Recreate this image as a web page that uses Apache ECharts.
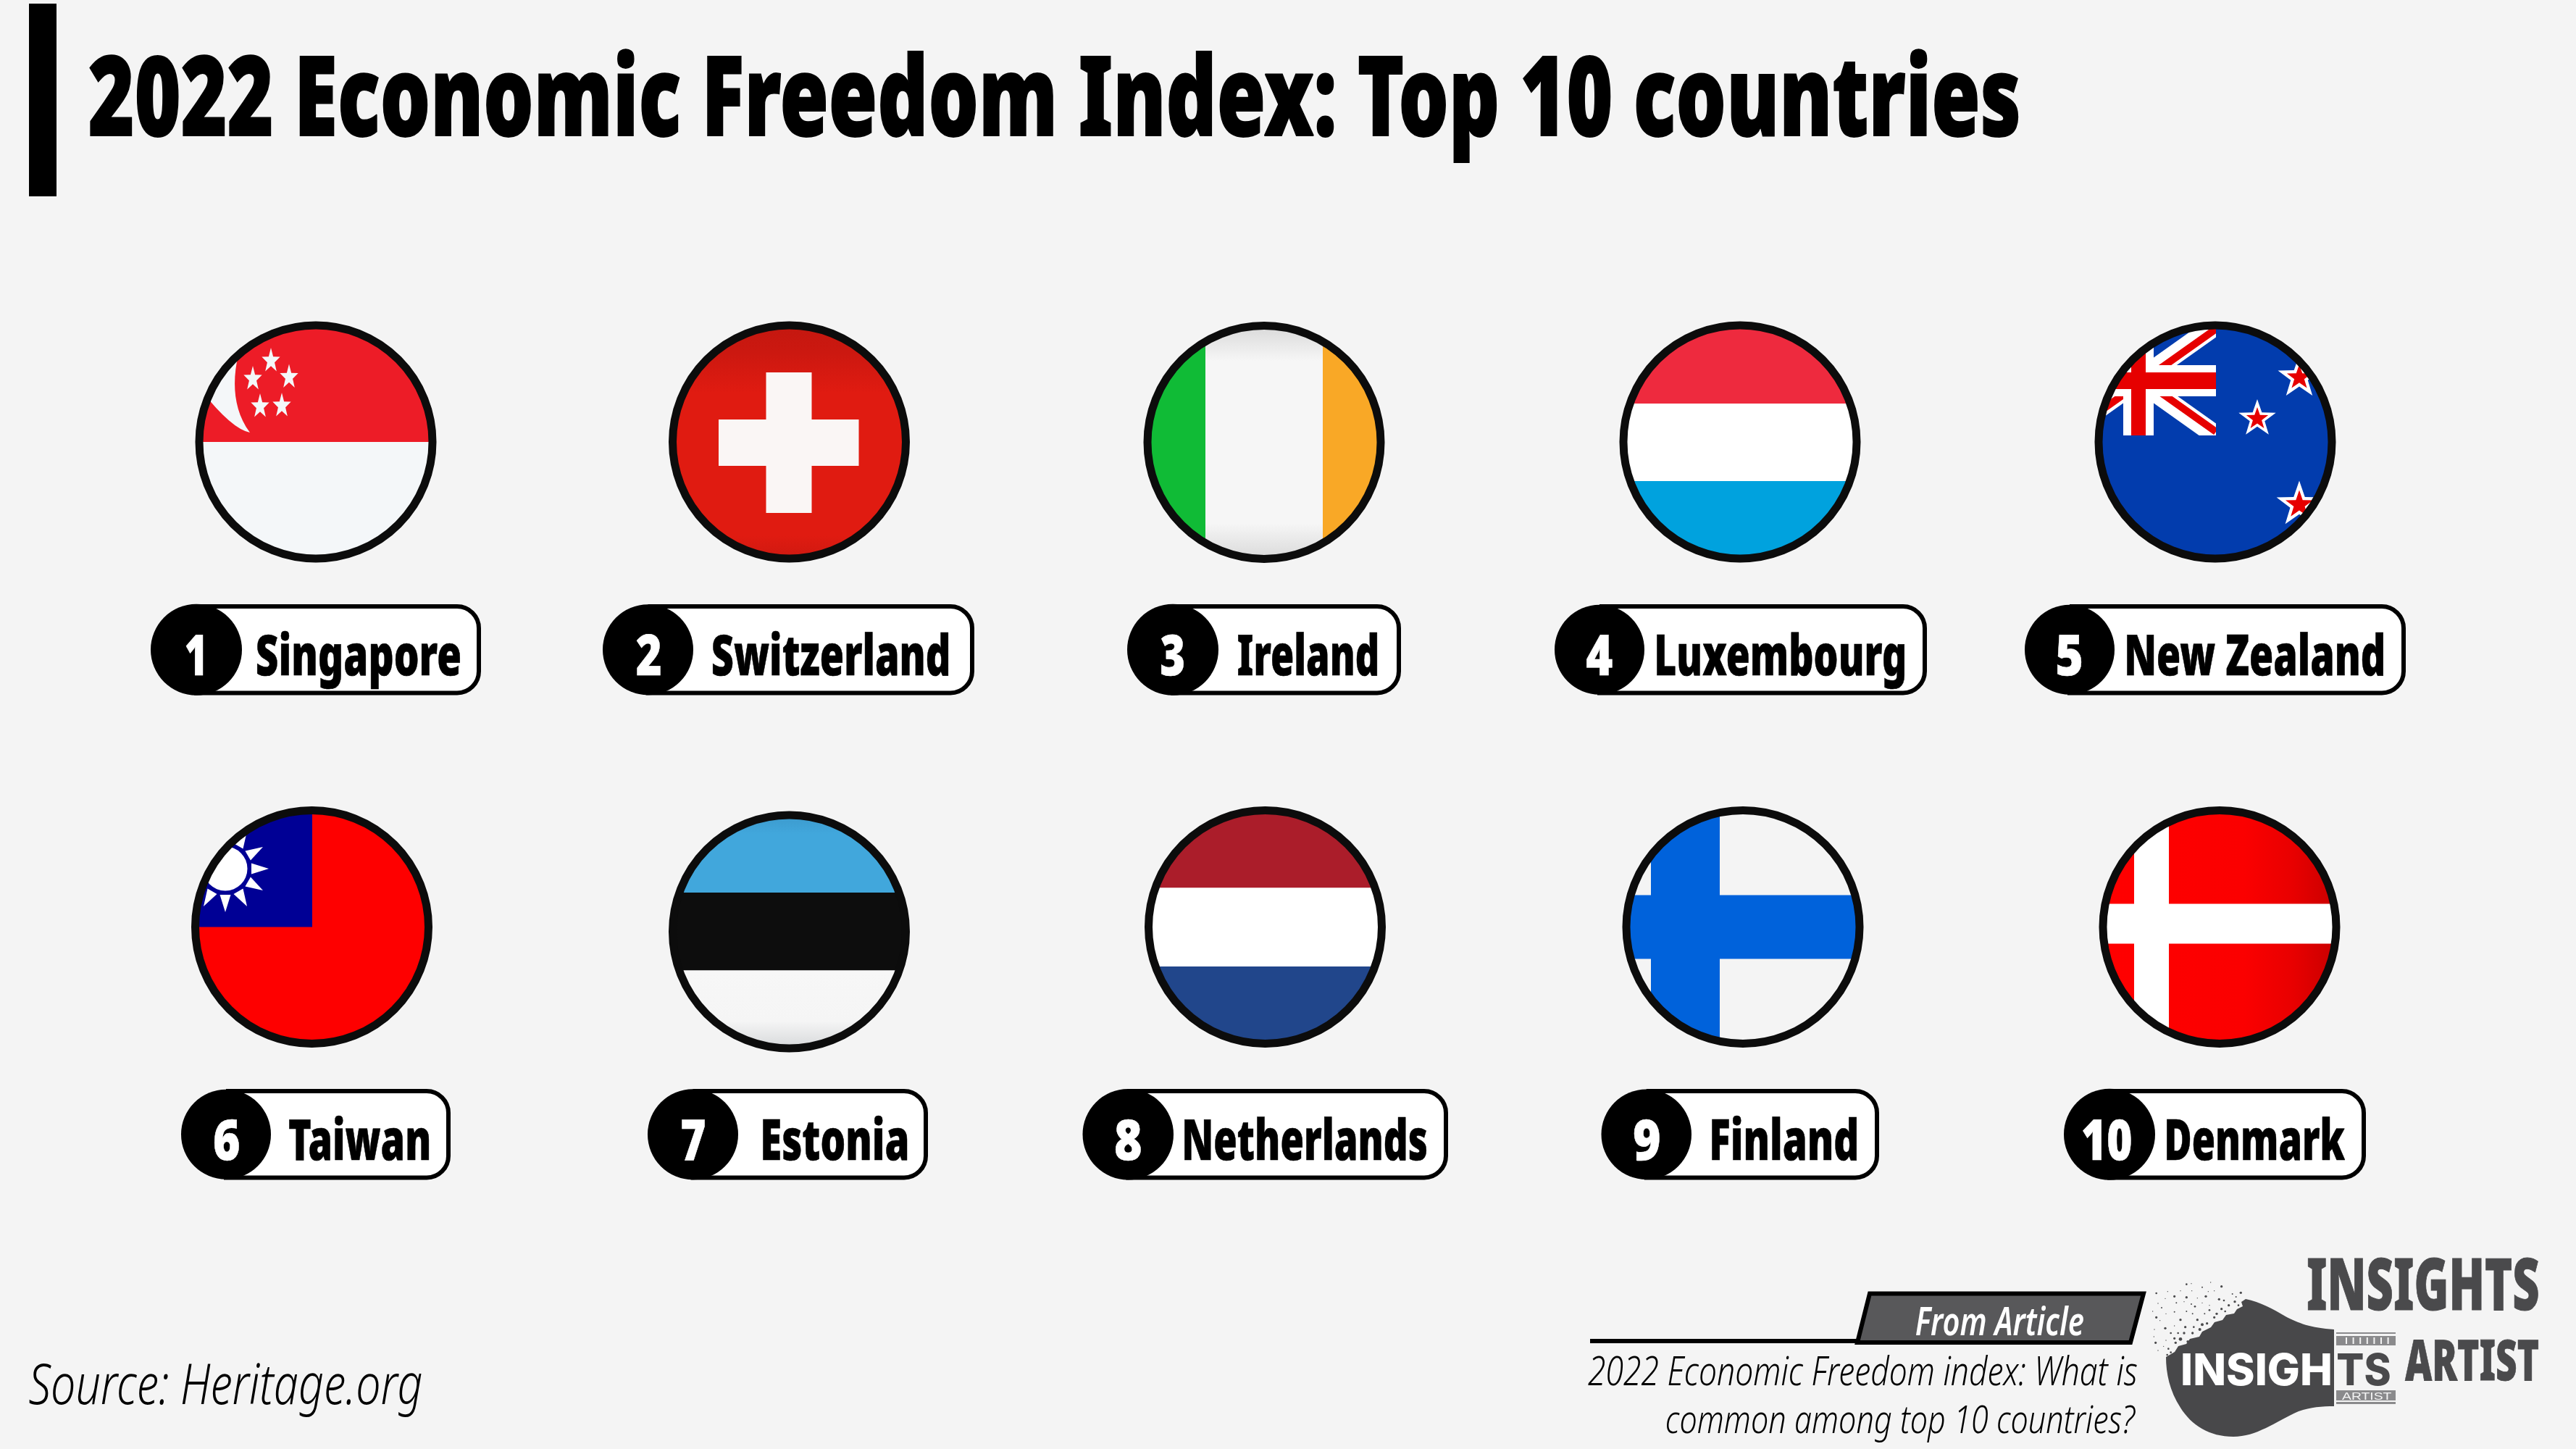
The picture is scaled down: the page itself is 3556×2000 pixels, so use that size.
<!DOCTYPE html>
<html>
<head>
<meta charset="utf-8">
<style>html,body{margin:0;padding:0;background:#f4f4f4}#c{width:3556px;height:2000px}</style>
<script src="https://cdn.jsdelivr.net/npm/echarts@6/dist/echarts.min.js"></script>
</head>
<body>
<div id="c"></div>
<script>
// ---------- content ----------
const titleText = '2022 Economic Freedom Index: Top 10 countries';
const countries = ['Singapore','Switzerland','Ireland','Luxembourg','New Zealand','Taiwan','Estonia','Netherlands','Finland','Denmark'];
const ranks = [1,2,3,4,5,6,7,8,9,10];
const sourceText = 'Source: Heritage.org';
const articleTag = 'From Article';
const articleLines = ['2022 Economic Freedom index: What is','common among top 10 countries?'];
const logoWords = ['INSIGHTS','ARTIST','INSIGH','TS'];

// ---------- layout (separate from the content above) ----------
const flagX = [436,1089.5,1745,2402,3058,430.5,1089.5,1746.5,2406,3064];
const flagY = [610,610,610.5,610,610,1279.5,1286,1279.5,1279.5,1279.5];
const pillLeft = [208,832,1556,2146,2795,250,894,1494.5,2210.5,2849];
const discRight = [334,957,1682,2270,2919,374,1019,1620,2335,2975];
const pillRight = [664,1345,1934,2660,3321,622,1281,1999,2594,3266];
const nameLeft = [355,984,1709,2287,2936,399,1053,1635,2363,2991];
const nameRight = [635,1309,1901,2629,3290,592,1252,1969,2563,3237];
const rankLeft = [257,879,1603,2190,2840,296,941,1540,2256,2875.5];
const rankRight = [280,911.5,1634,2226,2873,330,973,1575,2291,2942];
const pillTop = [834,834,834,834,834,1503,1503,1503,1503,1503];
const PILL_H = 125.5, CAP_OFFSET = 42.5, CAP_H = 55.5, FLAG_R = 157, RING_R = 161, RING_W = 11;

const HEAVY = {fontFamily:'"Noto Sans"', fontWeight:900, fontStyle:'normal'};
const ITALIC = {fontFamily:'"Noto Sans"', fontWeight:300, fontStyle:'italic'};
const ITALIC_B = {fontFamily:'"Noto Sans"', fontWeight:600, fontStyle:'italic'};
const LOGO_F = {fontFamily:'"Inter"', fontWeight:800, fontStyle:'normal'};
const LOGO_T = {fontFamily:'"Liberation Sans"', fontWeight:400, fontStyle:'normal'};

// ---------- helpers ----------
const mctx = document.createElement('canvas').getContext('2d');
function fitText(str, f, x0, x1, capTop, baseline, fill, lw) {
  const fs = 100;
  mctx.font = f.fontStyle + ' ' + f.fontWeight + ' ' + fs + 'px ' + f.fontFamily;
  mctx.textBaseline = 'middle'; mctx.textAlign = 'left';
  const m = mctx.measureText(str), h = mctx.measureText('H');
  const inkL = -m.actualBoundingBoxLeft, inkR = m.actualBoundingBoxRight;
  const asc = h.actualBoundingBoxAscent, capH = asc + h.actualBoundingBoxDescent;
  const sx = (x1 - x0) / (inkR - inkL), sy = (baseline - capTop) / capH;
  const style = {text:str, x:0, y:0, fontSize:fs, fontFamily:f.fontFamily.replace(/"/g,''), fontWeight:f.fontWeight, fontStyle:f.fontStyle,
      fill:fill, align:'left', verticalAlign:'middle', textAlign:'left', textVerticalAlign:'middle'};
  if (lw) { style.stroke = fill; style.lineWidth = lw; }
  return {type:'text', silent:true, x:x0 - inkL * sx, y:capTop + asc * sy, scaleX:sx, scaleY:sy, style:style};
}
const rect = (x0,y0,x1,y1,fill) => ({type:'rect', shape:{x:x0,y:y0,width:x1-x0,height:y1-y0}, style:{fill:fill}});
const disc = (cx,cy,r,fill) => ({type:'circle', shape:{cx:cx,cy:cy,r:r}, style:{fill:fill}});
function star(cx,cy,R,fill,sx) {
  const pts = [], k0 = sx || 1;
  for (let k=0;k<10;k++){ const r = k%2 ? R*0.4 : R, a = -Math.PI/2 + k*Math.PI/5; pts.push([cx+k0*r*Math.cos(a), cy+r*Math.sin(a)]); }
  return {type:'polygon', shape:{points:pts}, style:{fill:fill}};
}
const vGrad = stops => ({type:'linear',x:0,y:0,x2:0,y2:1,colorStops:stops.map(s=>({offset:s[0],color:s[1]}))});
const hGrad = stops => ({type:'linear',x:0,y:0,x2:1,y2:0,colorStops:stops.map(s=>({offset:s[0],color:s[1]}))});
const R = 170;

const flagPainters = {
  'Singapore': () => {
    const w = '#f4f7f9', s = 0.74;
    return [ rect(-R,-R,R,0,'#ed1c27'), rect(-R,0,R,R,w),
      {type:'path', shape:{pathData:'M-107.5 -118 C-115 -85 -115 -45 -91 -13 Q-118 -18 -165 -80 L-165 -130 Z'}, style:{fill:w}},
      star(-62,-112,18,w,s), star(-37,-89.5,18,w,s), star(-87,-87,18,w,s), star(-77,-49,18,w,s), star(-47,-50,18,w,s) ];
  },
  'Switzerland': () => [
    rect(-R,-R,R,R,vGrad([[0,'#c2170f'],[.14,'#cc1810'],[.3,'#e01b11'],[.88,'#e01b11'],[1,'#c91810']])),
    rect(-32,-96,31,98,'#faf6f5'), rect(-97.5,-31,96,33,'#faf6f5') ],
  'Ireland': () => [
    rect(-R,-R,R,R,vGrad([[0,'#d8d8d8'],[.04,'#dcdcdc'],[.17,'#f6f6f6'],[.83,'#f6f6f6'],[.96,'#dcdcdc'],[1,'#d8d8d8']])),
    rect(-R,-R,-81,R,'#10bb36'), rect(81,-R,R,R,'#f9a826') ],
  'Luxembourg': () => [ rect(-R,-R,R,-53,'#ee2a3e'), rect(-R,-53,R,54,'#ffffff'), rect(-R,54,R,R,'#00a2de') ],
  'New Zealand': () => {
    const W='#ffffff', C='#e60000';
    const line = (x1,y1,x2,y2,c,w) => ({type:'line', shape:{x1,y1,x2,y2}, style:{stroke:c,lineWidth:w}});
    return [ rect(-R,-R,R,R,'#023cad'),
      {type:'group', clipPath:{type:'rect',shape:{x:-213,y:-161,width:214,height:152}}, children:[
        line(-213,-161,1,-9,W,27), line(-213,-9,1,-161,W,27),
        line(-213,-166,1,-14,C,10), line(-213,-4,1,-156,C,10),
        rect(-213,-106,1,-63,W), rect(-127,-161,-85,-9,W),
        rect(-213,-96,1,-73,C), rect(-116,-161,-96,-9,C) ]},
      star(58,-32,27,W), star(58,-32,16,C),
      star(116,-89,31,W), star(116,-89,18,C),
      star(116,86.6,33,W), star(116,86.6,20,C) ];
  },
  'Taiwan': () => {
    const ch = [ rect(-R,-R,R,R,'#fe0000'), rect(-R,-R,0.5,0,'#000095') ];
    const cx=-119.5, cy=-80.5;
    for (let k=0;k<12;k++){ const a=k*Math.PI/6, d=[Math.cos(a),Math.sin(a)], n=[-d[1],d[0]];
      ch.push({type:'polygon', shape:{points:[[cx+d[0]*36+n[0]*7.5,cy+d[1]*36+n[1]*7.5],[cx+d[0]*36-n[0]*7.5,cy+d[1]*36-n[1]*7.5],[cx+d[0]*60,cy+d[1]*60]]}, style:{fill:'#ffffff'}}); }
    ch.push(disc(cx,cy,34.5,'#000095'), disc(cx,cy,30.5,'#ffffff'));
    return ch;
  },
  'Estonia': () => [
    rect(-R,-R,R,-54,vGrad([[0,'#3a95c7'],[.3,'#41a7dc'],[1,'#41a7dc']])),
    rect(-R,-54,R,53.5,'#0d0d0d'),
    rect(-R,53.5,R,R,vGrad([[0,'#f7f7f7'],[.6,'#f5f5f5'],[.95,'#d4d6d8'],[1,'#d0d2d4']])) ],
  'Netherlands': () => [ rect(-R,-R,R,-54,'#ab1d2a'), rect(-R,-54,R,54.5,'#ffffff'), rect(-R,54.5,R,R,'#21468b') ],
  'Finland': () => [ rect(-R,-R,R,R,'#f4f4f4'), rect(-127,-R,-32,R,'#0062db'), rect(-R,-44,R,44,'#0062db') ],
  'Denmark': () => [
    rect(-R,-R,R,R,hGrad([[0,'#ff0000'],[.6,'#fb0000'],[.8,'#e80000'],[1,'#c40000']])),
    rect(-118,-R,-70,R,'#ffffff'), rect(-R,-32,R,23,'#ffffff') ]
};

// ---------- marks ----------
function renderFlag(params, api) {
  const p = api.coord([api.value(0), api.value(1)]);
  return {type:'group', x:p[0], y:p[1], children:[
    {type:'group', clipPath:{type:'circle',shape:{cx:0,cy:0,r:FLAG_R+1}}, children:flagPainters[countries[params.dataIndex]]()},
    {type:'circle', shape:{cx:0,cy:0,r:RING_R}, style:{fill:'none',stroke:'#0c0c0c',lineWidth:RING_W}}
  ]};
}
function renderLabel(params, api) {
  const i = params.dataIndex;
  const tl = api.coord([api.value(0), api.value(1)]);
  const top = tl[1], left = tl[0];
  const r = (discRight[i]-pillLeft[i])/2, cx = left + r;
  const capTop = top + CAP_OFFSET, base = capTop + CAP_H;
  return {type:'group', children:[
    {type:'rect', shape:{x:cx, y:top+3, width:pillRight[i]-cx-3, height:PILL_H-6, r:[0,30,30,0]}, style:{fill:'#ffffff',stroke:'#000000',lineWidth:6}},
    disc(cx, top+PILL_H/2, r, '#000000'),
    fitText(String(ranks[i]), HEAVY, rankLeft[i], rankRight[i], capTop, base, '#ffffff', 0.8),
    fitText(countries[i], HEAVY, nameLeft[i], nameRight[i], capTop, base, '#000000', 0.8)
  ]};
}

// logo speckle
const dust = [[175,38,4],[195,35,2],[240,50,3],[275,30,2],[320,47,5],[290,65,2],[265,68,2],[400,73,5],[365,78,3],[50,75,4],[97,68,2],[150,65,2],[197,65,2],[125,88,5],[175,92,5],[87,97,2],[220,95,2],[255,88,5],[310,100,5],[380,90,3],[57,117,2],[133,115,3],[165,110,2],[195,120,3],[240,115,2],[270,125,2],[35,150,2],[72,135,3],[125,152,3],[175,150,3],[210,130,4],[90,160,2],[150,185,5],[50,175,5],[65,188,2],[125,210,2],[200,160,3],[270,145,4],[220,185,5],[250,160,3],[87,220,5],[42,225,2],[170,215,5],[205,215,4],[110,240,4],[140,240,4],[40,255,2],[47,280,5],[90,270,2],[125,262,5],[165,240,5],[57,312,2],[80,295,2],[100,305,4],[130,280,5],[180,275,5],[110,320,4],[240,205,6],[300,160,5],[330,105,4],[350,125,5],[375,110,5],[335,150,4],[260,200,5],[290,175,5],[150,265,7],[320,140,5],[390,125,4],[95,330,4],[200,240,5],[230,225,6]];
const ticks = [];
for (let k=0;k<7;k++) ticks.push(rect(3238+k*9.6,1846,3240+k*9.6,1855,'#f4f4f4'));

const decor = [
  rect(40,5,78,271,'#000000'),
  fitText(titleText, HEAVY, 124, 2786, 77, 187, '#000000', 1.2),
  fitText(sourceText, ITALIC, 40, 582, 1883, 1938, '#000000'),
  {type:'rect', shape:{x:2195,y:1848,width:370,height:6}, style:{fill:'#000000'}},
  {type:'polygon', shape:{points:[[2581,1785.5],[2959,1785.5],[2941,1853],[2564,1853]]}, style:{fill:'#58585a',stroke:'#000000',lineWidth:6}},
  fitText(articleTag, ITALIC_B, 2645, 2876, 1804, 1843, '#ffffff'),
  fitText(articleLines[0], ITALIC, 2192, 2950, 1873, 1912, '#000000'),
  fitText(articleLines[1], ITALIC, 2301, 2948, 1940, 1978, '#000000'),
  ...dust.map(d => disc(2960+d[0]/3,1760+d[1]/3,d[2]/3,'#4a4a4c')),
  rect(3225,1839,3307,1841,'#8a8a8c'), rect(3225,1844,3307,1857,'#8a8a8c'), ...ticks,
  rect(3225,1919,3307,1933,'#8a8a8c'), rect(3225,1935,3307,1938,'#8a8a8c'),
  fitText(logoWords[1], LOGO_T, 3233, 3301, 1922, 1932, '#f4f4f4'),
  fitText(logoWords[3], LOGO_F, 3227, 3299, 1868, 1912, '#4a4a4c'),
  fitText(logoWords[0], HEAVY, 3186, 3504, 1737, 1808, '#4a4a4c', 1),
  fitText(logoWords[1], HEAVY, 3320, 3504, 1849, 1905, '#4a4a4c', 1)
];
const bulbPath = 'M3222 1835 C3190 1833 3172 1826 3155 1817 C3138 1807 3120 1797 3100 1793 L3094 1797 L3096 1803 L3088 1807 L3084 1813 L3073 1815 L3068 1822 L3057 1825 L3052 1832 L3040 1838 L3036 1845 L3023 1848 L3018 1855 L3007 1858 L3002 1866 L2990 1873 C2990 1895 2995 1920 3010 1943 C3025 1967 3050 1983 3083 1983 C3115 1983 3140 1963 3173 1948 C3190 1942 3205 1941 3222 1941 Z';
function renderBulb() {
  return {type:'group', children:[
    {type:'path', shape:{pathData:bulbPath}, style:{fill:'#48484a'}},
    fitText(logoWords[2], LOGO_F, 3013, 3217, 1868, 1912, '#ffffff')
  ]};
}

const chart = echarts.init(document.getElementById('c'), null, {renderer:'canvas'});
chart.setOption({
  backgroundColor:'#f4f4f4',
  animation:false,
  grid:{left:0,right:0,top:0,bottom:0},
  xAxis:{type:'value',min:0,max:3556,show:false},
  yAxis:{type:'value',min:0,max:2000,inverse:true,show:false},
  graphic:{elements:decor},
  series:[
    {type:'custom', name:'flags', coordinateSystem:'cartesian2d', clip:false, renderItem:renderFlag,
     data:countries.map((c,i)=>({name:c,value:[flagX[i],flagY[i]]}))},
    {type:'custom', name:'labels', coordinateSystem:'cartesian2d', clip:false, renderItem:renderLabel,
     data:countries.map((c,i)=>({name:c,value:[pillLeft[i],pillTop[i],ranks[i]]}))},
    {type:'custom', name:'logo', coordinateSystem:'cartesian2d', clip:false, renderItem:renderBulb, data:[[0,0]]}
  ]
});
</script>
</body>
</html>
